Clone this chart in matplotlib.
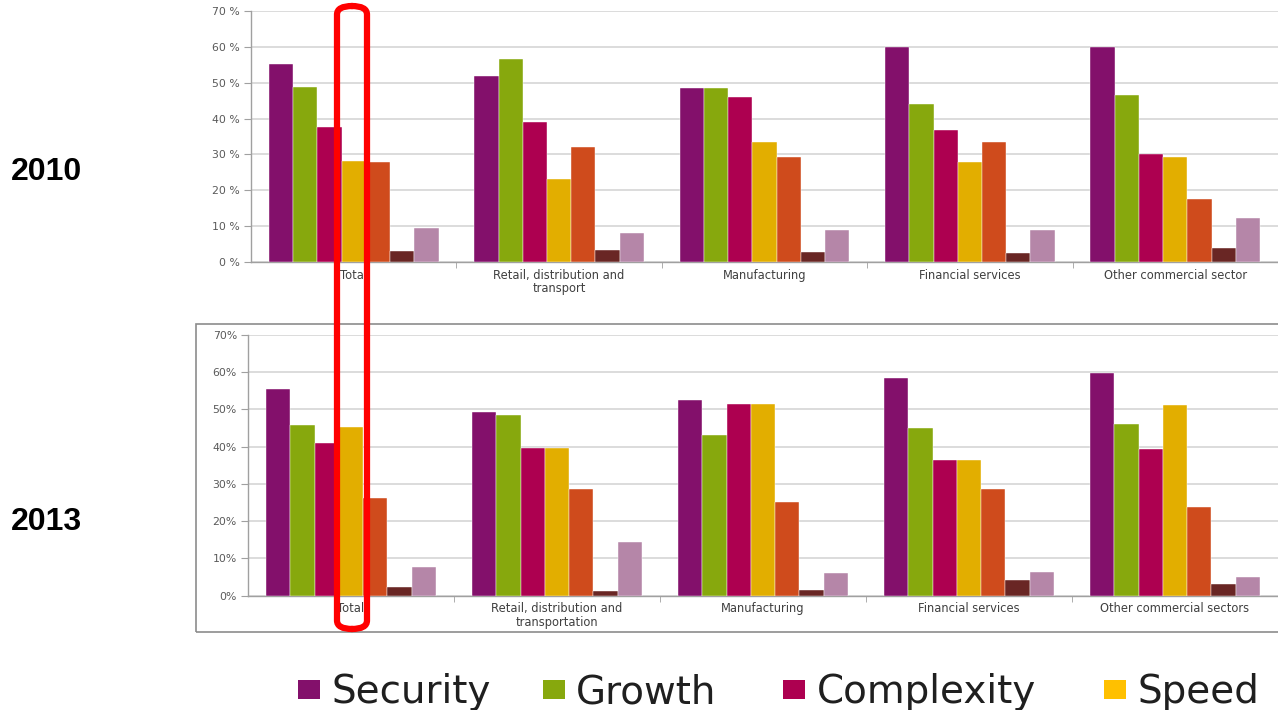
import numpy as np
import matplotlib
matplotlib.use("Agg")
import matplotlib.pyplot as plt
from matplotlib.patches import Rectangle, FancyBboxPatch

# values in percent
cats_2010 = ["Total", "Retail, distribution and\ntransport", "Manufacturing",
             "Financial services", "Other commercial sector"]
cats_2013 = ["Total", "Retail, distribution and\ntransportation", "Manufacturing",
             "Financial services", "Other commercial sectors"]

series = ["Security", "Growth", "Complexity", "Speed", "Series 5", "Series 6", "Series 7"]
colors = ["#83106B", "#87A80D", "#AD0050", "#E2AE00", "#CF4B1C", "#692624", "#B586A8"]
legend_colors = ["#83106B", "#87A80D", "#AD0050", "#FFC000"]

security_2010 = [55.3, 51.9, 48.6, 60.0, 60.0]
growth_2010 = [48.9, 56.7, 48.6, 44.0, 46.7]
complexity_2010 = [37.6, 39.1, 45.9, 36.8, 30.0]
speed_2010 = [28.3, 23.1, 33.6, 28.0, 29.2]
s5_2010 = [27.9, 32.0, 29.2, 33.6, 17.7]
s6_2010 = [3.1, 3.3, 2.7, 2.4, 3.8]
s7_2010 = [9.5, 8.0, 8.8, 8.8, 12.3]

security_2013 = [55.6, 49.2, 52.4, 58.5, 59.8]
growth_2013 = [45.7, 48.6, 43.1, 44.9, 46.1]
complexity_2013 = [41.1, 39.6, 51.4, 36.3, 39.3]
speed_2013 = [45.4, 39.6, 51.4, 36.3, 51.1]
s5_2013 = [26.2, 28.6, 25.2, 28.6, 23.9]
s6_2013 = [2.4, 1.3, 1.5, 4.2, 3.0]
s7_2013 = [7.6, 14.4, 6.0, 6.4, 5.1]

vals_2010 = [security_2010, growth_2010, complexity_2010, speed_2010, s5_2010, s6_2010, s7_2010]
vals_2013 = [security_2013, growth_2013, complexity_2013, speed_2013, s5_2013, s6_2013, s7_2013]

W, H = 1278, 710
fig = plt.figure(figsize=(W / 100, H / 100), dpi=100)


def px_axes(left, top, right, bottom):
    return fig.add_axes([left / W, 1 - bottom / H, (right - left) / W, (bottom - top) / H])


def draw(ax, cats, vals, tick_fmt, cat_w):
    n = len(vals)
    x = np.arange(len(cats))
    bw = 0.826 / n
    for i, v in enumerate(vals):
        ax.bar(x - 0.413 + bw * (i + 0.5), v, width=bw, color=colors[i],
               edgecolor="white", linewidth=0.3, zorder=3)
    ax.set_ylim(0, 70)
    ax.set_xlim(-0.5, -0.5 + (W - ax.get_position().x0 * W) / cat_w)
    ax.set_yticks(np.arange(0, 71, 10))
    ax.set_yticklabels([tick_fmt.format(t) for t in range(0, 71, 10)],
                       fontsize=7.8, color="#595959")
    ax.yaxis.grid(True, color="#d9d9d9", linewidth=1.3, zorder=0)
    ax.set_xticks(x)
    ax.set_xticklabels(cats, fontsize=8.3, color="#404040", linespacing=1.05)
    ax.set_xticks(np.arange(len(cats)) + 0.5, minor=True)
    ax.tick_params(axis="x", which="major", length=0, pad=5)
    ax.tick_params(axis="x", which="minor", length=4, color="#a0a0a0")
    ax.tick_params(axis="y", length=5, color="#a0a0a0", pad=3)
    for s in ["top", "right"]:
        ax.spines[s].set_visible(False)
    for s in ["left", "bottom"]:
        ax.spines[s].set_color("#a0a0a0")
        ax.spines[s].set_linewidth(1.0)
    ax.set_axisbelow(True)


ax_top = px_axes(251, 11, W, 262)
draw(ax_top, cats_2010, vals_2010, "{} %", 207)

ax_bot = px_axes(248, 335, W, 595.5)
draw(ax_bot, cats_2013, vals_2013, "{}%", 207.5)

# frame around the 2013 chart
fig.patches.append(Rectangle((196 / W, 1 - 632 / H), (W + 10 - 196) / W, (632 - 324) / H,
                             transform=fig.transFigure, fill=False,
                             edgecolor="#8c8c8c", linewidth=1.2, zorder=1))

# year labels
fig.text(46 / W, 1 - 172 / H, "2010", fontsize=23, fontweight="bold",
         family="Liberation Sans", ha="center", va="center")
fig.text(46 / W, 1 - 522 / H, "2013", fontsize=23, fontweight="bold",
         family="Liberation Sans", ha="center", va="center")

# legend (only the first four series are shown)
square_x = [298, 543, 783, 1104]
text_x = [332, 576, 817, 1137]
for sx, tx, name, c in zip(square_x, text_x, series[:4], legend_colors):
    fig.patches.append(Rectangle((sx / W, 1 - 699 / H), 22 / W, 19 / H,
                                 transform=fig.transFigure, facecolor=c, edgecolor="none"))
    fig.text(tx / W, 1 - 703 / H, name, fontsize=28, color="#1f1f1f",
             ha="left", va="baseline")

# red highlight box
fig.patches.append(FancyBboxPatch((337 / W, 1 - 629 / H), 30 / W, 623 / H,
                                  boxstyle="round,pad=0,rounding_size=0.012",
                                  transform=fig.transFigure, fill=False,
                                  edgecolor="#ff0000", linewidth=4.5, zorder=10))

fig.savefig("out.png", dpi=100)
